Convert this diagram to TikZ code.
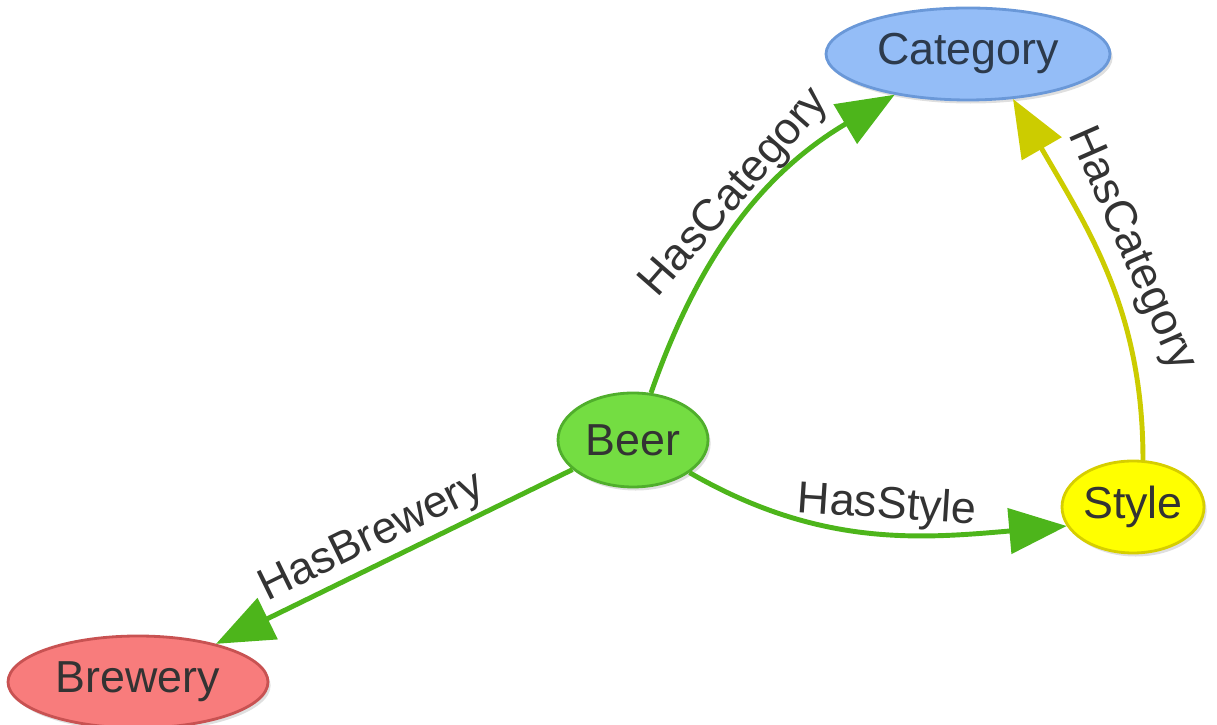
\documentclass[tikz,border=0pt]{standalone}
\usepackage{fontspec}
\setmainfont{Liberation Sans}
\usetikzlibrary{shapes.geometric,arrows.meta,shadows}

\definecolor{catfill}{HTML}{94BDF7}
\definecolor{catline}{HTML}{6A98D8}
\definecolor{cattext}{HTML}{2C3A4C}
\definecolor{beerfill}{HTML}{74DD42}
\definecolor{beerline}{HTML}{50AE2C}
\definecolor{stylefill}{HTML}{FFFF00}
\definecolor{styleline}{HTML}{D6CE00}
\definecolor{brewfill}{HTML}{F87C7C}
\definecolor{brewline}{HTML}{C85252}
\definecolor{relgreen}{HTML}{4DB51B}
\definecolor{relyellow}{HTML}{CCCC00}
\definecolor{textgray}{HTML}{333333}

\tikzset{
	concept/.style={ellipse, inner sep=0pt, line width=1.6pt, text=textgray,
		font=\fontsize{25.5}{30}\selectfont,
		drop shadow={opacity=0.25, shadow xshift=1.5pt, shadow yshift=-2pt}},
	rel/.style={line width=2.8pt, draw=relgreen, -{Triangle[length=11.5mm,width=9mm]}},
	rellabel/.style={font=\fontsize{25.5}{30}\selectfont, text=textgray, sloped, above, inner sep=2pt}
}

\begin{document}
\begin{tikzpicture}
			%%%%% START %%%%%
			
			\useasboundingbox (0, 0) rectangle (24.34, 14.5);
			
			\node[concept, fill=catfill, draw=catline, text=cattext, minimum width=5.68cm, minimum height=1.84cm] (cat) at (19.36, 13.42) {Category};
			\node[concept, fill=beerfill, draw=beerline, minimum width=3.0cm, minimum height=1.88cm] (beer) at (12.66, 5.70) {Beer};
			\node[concept, fill=stylefill, draw=styleline, minimum width=2.84cm, minimum height=1.84cm] (sty) at (22.66, 4.36) {Style};
			\node[concept, fill=brewfill, draw=brewline, minimum width=5.2cm, minimum height=1.84cm] (brew) at (2.76, 0.86) {Brewery};
			
			\draw[rel] (beer) to[bend left=20] node[rellabel, pos=0.54, inner sep=0pt] {HasCategory} (cat);
			\draw[rel, draw=relyellow] (sty.78) to[out=90, in=-60] node[rellabel, pos=0.53, inner sep=5pt] {HasCategory} (cat.-45);
			\draw[rel] (beer) to[out=-30, in=185] node[rellabel, pos=0.54] {HasStyle} (sty.196);
			\draw[rel] (beer) -- node[rellabel, pos=0.53] {HasBrewery} (brew);
			
			%%%%% END %%%%%
\end{tikzpicture}
\end{document}
